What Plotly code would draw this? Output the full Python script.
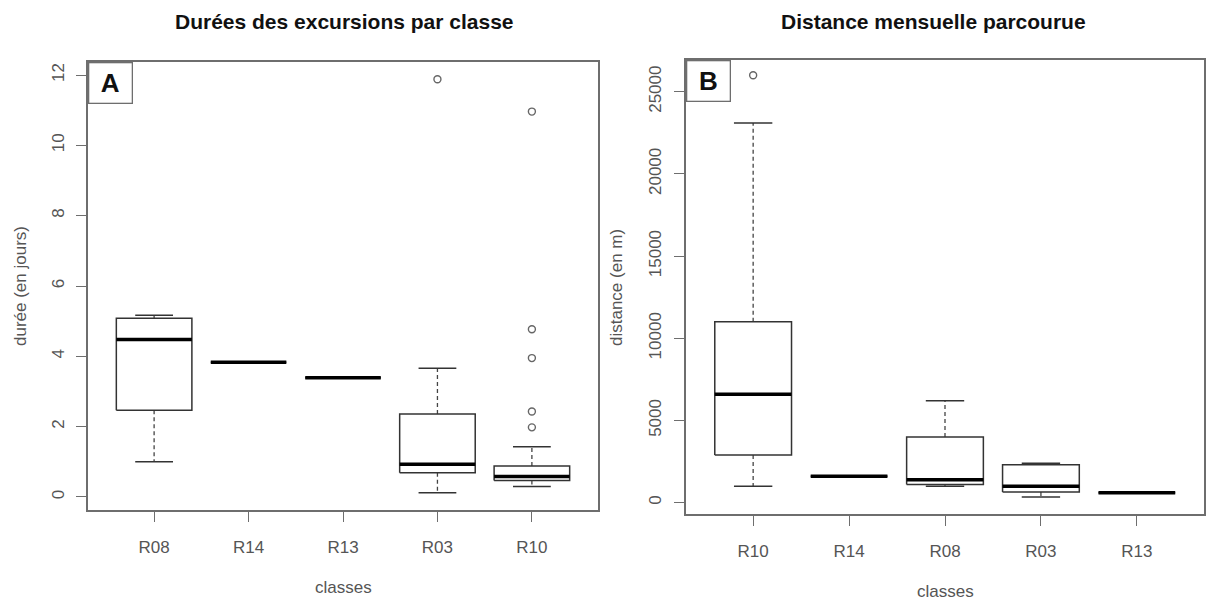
import plotly.graph_objects as go

# ---------------- data ----------------
# Panel A : Durées des excursions par classe (jours)
cats_a = ["R08", "R14", "R13", "R03", "R10"]
low_a = [1.00, 3.83, 3.39, 0.12, 0.30]
q1_a = [2.47, 3.83, 3.39, 0.69, 0.47]
med_a = [4.48, 3.83, 3.39, 0.93, 0.58]
q3_a = [5.08, 3.83, 3.39, 2.36, 0.88]
high_a = [5.17, 3.83, 3.39, 3.66, 1.43]
out_a = [[], [], [], [11.88], [10.96, 4.77, 3.95, 2.43, 1.98]]
yticks_a = [0, 2, 4, 6, 8, 10, 12]

# Panel B : Distance mensuelle parcourue (m)
cats_b = ["R10", "R14", "R08", "R03", "R13"]
low_b = [1000, 1600, 1000, 350, 600]
q1_b = [2900, 1600, 1100, 650, 600]
med_b = [6600, 1600, 1400, 1000, 600]
q3_b = [11000, 1600, 4000, 2300, 600]
high_b = [23100, 1600, 6200, 2400, 600]
out_b = [[26000], [], [], [], []]
yticks_b = [0, 5000, 10000, 15000, 20000, 25000]

# ---------------- style ----------------
W, H = 1206, 600
BOX_HALF = 0.4
CAP_HALF = 0.2
BOX_COL = "#333333"
MED_COL = "#000000"
FRAME_COL = "#6e6e6e"
TXT_COL = "#555555"
FONT = "Liberation Sans, Arial, sans-serif"

fig = go.Figure()


def add_boxes(cats, low, q1, med, q3, high, outs, xa, ya):
    for i, c in enumerate(cats):
        p = i + 1
        # whiskers (dashed)
        fig.add_trace(go.Scatter(
            x=[p, p, None, p, p], y=[q3[i], high[i], None, q1[i], low[i]],
            mode="lines", line=dict(color="#444444", width=1.3, dash="4px,3px"),
            xaxis=xa, yaxis=ya, showlegend=False, hoverinfo="skip"))
        # caps
        fig.add_trace(go.Scatter(
            x=[p - CAP_HALF, p + CAP_HALF, None, p - CAP_HALF, p + CAP_HALF],
            y=[high[i], high[i], None, low[i], low[i]],
            mode="lines", line=dict(color=BOX_COL, width=1.5),
            xaxis=xa, yaxis=ya, showlegend=False, hoverinfo="skip"))
        # box
        fig.add_trace(go.Scatter(
            x=[p - BOX_HALF, p + BOX_HALF, p + BOX_HALF, p - BOX_HALF, p - BOX_HALF],
            y=[q1[i], q1[i], q3[i], q3[i], q1[i]],
            mode="lines", fill="toself", fillcolor="white",
            line=dict(color=BOX_COL, width=1.5),
            xaxis=xa, yaxis=ya, showlegend=False, hoverinfo="skip"))
        # median
        fig.add_trace(go.Scatter(
            x=[p - BOX_HALF, p + BOX_HALF], y=[med[i], med[i]],
            mode="lines", line=dict(color=MED_COL, width=3.5),
            xaxis=xa, yaxis=ya, showlegend=False, name=c))
        # outliers
        if outs[i]:
            fig.add_trace(go.Scatter(
                x=[p] * len(outs[i]), y=outs[i], mode="markers",
                marker=dict(symbol="circle-open", size=7, color="#666666",
                            line=dict(width=1.4, color="#666666")),
                xaxis=xa, yaxis=ya, showlegend=False))


add_boxes(cats_a, low_a, q1_a, med_a, q3_a, high_a, out_a, "x", "y")
add_boxes(cats_b, low_b, q1_b, med_b, q3_b, high_b, out_b, "x2", "y2")

# plot areas in pixels
A = dict(l=88, r=598, t=62, b=510)
B = dict(l=686, r=1204, t=60, b=514)


def dom_x(d):
    return [d["l"] / W, d["r"] / W]


def dom_y(d):
    return [1 - d["b"] / H, 1 - d["t"] / H]


axis_common = dict(showgrid=False, zeroline=False, showline=True, mirror=True,
                   linecolor=FRAME_COL, linewidth=1.5, ticks="outside",
                   ticklen=10, tickwidth=1.3, tickcolor=FRAME_COL,
                   tickfont=dict(family=FONT, size=17, color=TXT_COL))

fig.update_layout(
    width=W, height=H, autosize=False,
    margin=dict(l=0, r=0, t=0, b=0),
    paper_bgcolor="white", plot_bgcolor="white",
    xaxis=dict(domain=dom_x(A), range=[0.3, 5.7], anchor="y",
               tickvals=list(range(1, len(cats_a) + 1)), ticktext=cats_a,
               ticklabelstandoff=11, **axis_common),
    yaxis=dict(domain=dom_y(A), range=[-0.37, 12.37], anchor="x",
               tickvals=yticks_a, ticktext=[str(v) for v in yticks_a],
               tickangle=-90, ticklabelstandoff=5, **axis_common),
    xaxis2=dict(domain=dom_x(B), range=[0.3, 5.7], anchor="y2",
                tickvals=list(range(1, len(cats_b) + 1)), ticktext=cats_b,
                ticklabelstandoff=11, **axis_common),
    yaxis2=dict(domain=dom_y(B), range=[-690, 26930], anchor="x2",
                tickvals=yticks_b, ticktext=[str(v) for v in yticks_b],
                tickangle=-90, ticklabelstandoff=6, **axis_common),
)


def px_ann(text, x, y, size=17, bold=False, angle=0, color=TXT_COL):
    fig.add_annotation(
        text=f"<b>{text}</b>" if bold else text,
        x=x / W, y=1 - y / H, xref="paper", yref="paper",
        xanchor="center", yanchor="middle", showarrow=False,
        textangle=angle, font=dict(family=FONT, size=size, color=color))


# titles
px_ann("Durées des excursions par classe", 345, 21, size=21, bold=True, color="#111111")
px_ann("Distance mensuelle parcourue", 933, 21, size=21, bold=True, color="#111111")
# axis titles
px_ann("classes", (A["l"] + A["r"]) / 2, 587)
px_ann("classes", (B["l"] + B["r"]) / 2, 591)
px_ann("durée (en jours)", 20, (A["t"] + A["b"]) / 2, angle=-90)
px_ann("distance (en m)", 617, (B["t"] + B["b"]) / 2, angle=-90)

# panel letters
for letter, d in (("A", A), ("B", B)):
    fig.add_annotation(
        text=f"<b>{letter}</b>", x=d["l"] / W, y=1 - d["t"] / H,
        xref="paper", yref="paper", xanchor="left", yanchor="top",
        showarrow=False, width=42, height=39, align="center", valign="middle",
        bgcolor="white", bordercolor=FRAME_COL, borderwidth=1.3, borderpad=0,
        font=dict(family=FONT, size=26, color="#111111"))

fig.write_html(
    "out.html",
    config={"displayModeBar": False},
    post_script="document.body.style.margin='0';document.body.style.overflow='hidden';",
)
